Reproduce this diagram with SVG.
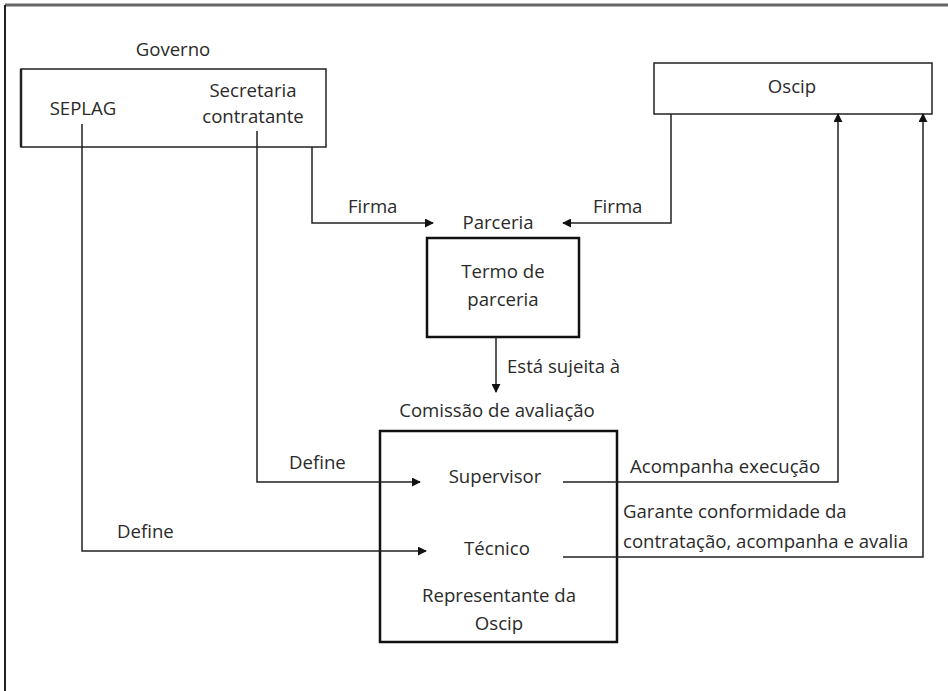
<svg xmlns="http://www.w3.org/2000/svg" width="948" height="691" viewBox="0 0 948 691">
<defs>
<marker id="ah" viewBox="0 0 10 10" refX="9" refY="5" markerWidth="9" markerHeight="9" markerUnits="userSpaceOnUse" orient="auto">
<path d="M0,0 L10,5 L0,10 Z" fill="#111"/>
</marker>
</defs>
<style>
text{font-family:"Open Sans","Noto Sans","Liberation Sans",sans-serif;font-size:18.6px;fill:#2a2a2a}
.c{text-anchor:middle}
.box{fill:none;stroke:#222;stroke-width:1.5}
.thick{fill:none;stroke:#111;stroke-width:2.5}
.ln{fill:none;stroke:#222;stroke-width:1.5}
.ar{fill:none;stroke:#222;stroke-width:1.5;marker-end:url(#ah)}
</style>
<rect width="948" height="691" fill="#fff"/>
<g id="frame">
<line x1="5" y1="5" x2="948" y2="5" stroke="#666" stroke-width="3"/>
<line x1="5" y1="5" x2="5" y2="691" stroke="#222" stroke-width="2"/>
</g>
<g id="governo">
<text x="173" y="56" class="c">Governo</text>
<rect x="21" y="69" width="305" height="78" class="box"/>
<line x1="21" y1="69" x2="21" y2="147" stroke="#222" stroke-width="2.5"/>
<text x="83" y="115" class="c">SEPLAG</text>
<text x="253" y="97" class="c">Secretaria</text>
<text x="253" y="123" class="c">contratante</text>
</g>
<g id="oscip">
<rect x="654" y="63" width="278" height="51" class="box"/>
<text x="792" y="93" class="c">Oscip</text>
</g>
<g id="parceria">
<text x="498" y="229" class="c">Parceria</text>
<rect x="427" y="238" width="152" height="99" class="thick"/>
<text x="503" y="278" class="c">Termo de</text>
<text x="503" y="306" class="c">parceria</text>
</g>
<g id="comissao">
<text x="497" y="417" class="c">Comissão de avaliação</text>
<rect x="380" y="431" width="237" height="211" class="thick"/>
<text x="495" y="483" class="c">Supervisor</text>
<text x="497" y="555" class="c">Técnico</text>
<text x="499" y="602" class="c">Representante da</text>
<text x="499" y="630" class="c">Oscip</text>
</g>
<g id="connectors">
<polyline points="312,147 312,223 433,223" class="ar"/>
<text x="348" y="213">Firma</text>
<polyline points="671,114 671,223 563,223" class="ar"/>
<text x="593" y="213">Firma</text>
<line x1="496" y1="337" x2="496" y2="392" class="ar"/>
<text x="507" y="373">Está sujeita à</text>
<polyline points="257,131 257,482 420,482" class="ar"/>
<text x="289" y="469">Define</text>
<polyline points="82,124 82,551 426,551" class="ar"/>
<text x="117" y="538">Define</text>
<polyline points="563,482 838,482 838,114" class="ar"/>
<text x="630" y="473">Acompanha execução</text>
<polyline points="563,557 923,557 923,114" class="ar"/>
<text x="623" y="518">Garante conformidade da</text>
<text x="623" y="548">contratação, acompanha e avalia</text>
</g>
</svg>
